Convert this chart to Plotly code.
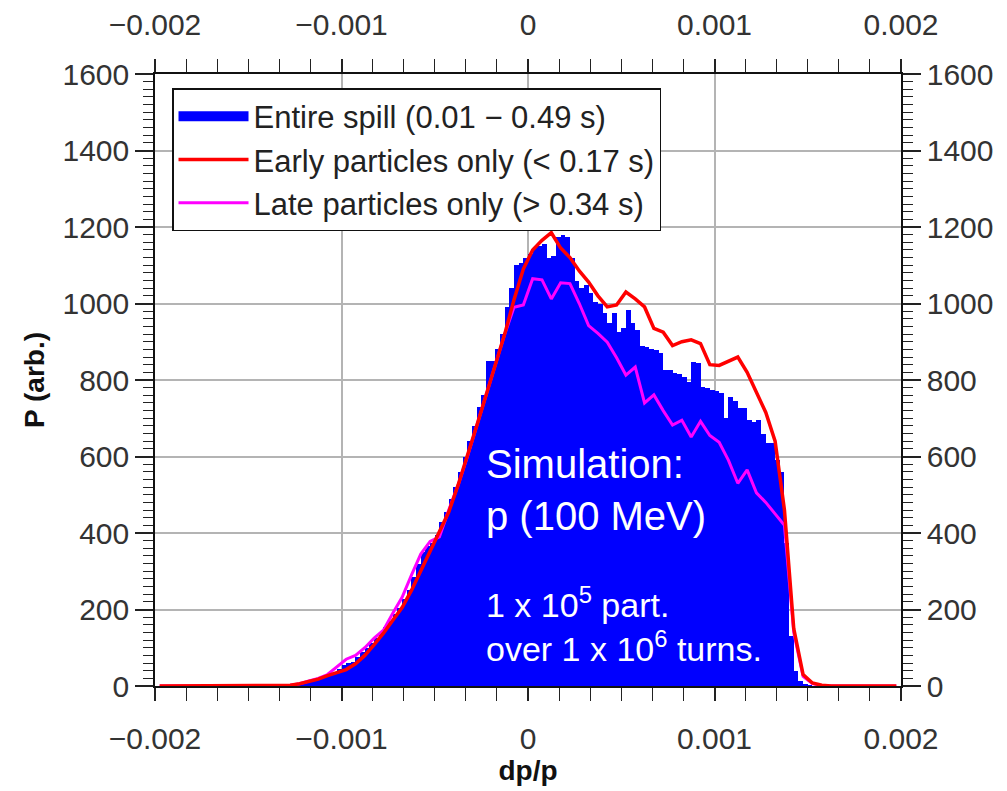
import numpy as np
import plotly.graph_objects as go

# ---- data ----
# histogram: 160 bins of width 2.5e-5 spanning -0.002 .. 0.002
hist_bin_width = 0.000025
hist_left = [0] * 28
hist_mid = [2, 3, 5, 7, 10, 13, 17, 21, 26, 30, 35, 45, 55, 60, 62, 75, 88, 100,
            112, 126, 140, 155, 170, 188, 205, 228, 250, 285, 320, 350, 365, 375,
            395, 430, 455, 490, 520, 560, 600, 640, 680, 730, 760, 850, 850, 880,
            920, 990, 1040, 1100, 1105, 1120, 1130, 1145, 1150, 1155, 1120, 1125,
            1175, 1180, 1175, 1120, 1060, 1040, 1048, 1027, 1005, 1000, 975, 950,
            975, 925, 935, 983, 950, 930, 890, 886, 880, 878, 870, 826, 826, 818,
            815, 808, 795, 847, 845, 782, 778, 774, 770, 766, 700, 756, 745, 727,
            727, 695, 690, 695, 660, 635, 635, 590, 560, 375, 130, 40, 12, 4, 2]
hist_right = [0] * 19
entire_spill = hist_left + hist_mid + hist_right

# line histograms: 80 bins of width 5e-5
line_bin_width = 0.00005
early = [0] * 14 + [2, 6, 12, 18, 27, 34, 43, 58, 80, 108, 138, 172, 205, 250, 300,
                    350, 400, 455, 525, 600, 680, 760, 840, 920, 1010, 1090, 1140,
                    1165, 1185, 1145, 1120, 1085, 1056, 1020, 991, 996, 1030, 1012,
                    991, 935, 925, 890, 900, 905, 895, 840, 838, 848, 860, 820, 770,
                    715, 640, 460, 150, 30, 8, 2] + [0] * 8
late = [0] * 14 + [2, 6, 13, 20, 30, 50, 70, 80, 100, 125, 146, 190, 232, 290, 345,
                   378, 390, 460, 525, 600, 680, 760, 840, 920, 990, 996, 1065, 1062,
                   1012, 1054, 1052, 1000, 942, 922, 899, 858, 813, 834, 740, 761,
                   720, 682, 695, 651, 692, 655, 637, 590, 530, 565, 505, 480, 450,
                   420, 140, 25, 6, 1] + [0] * 8

x_tick_vals = [-0.002, -0.001, 0, 0.001, 0.002]
x_tick_text = ["\u22120.002", "\u22120.001", "0", "0.001", "0.002"]
y_tick_vals = [0, 200, 400, 600, 800, 1000, 1200, 1400, 1600]

hist_x = -0.002 + (np.arange(len(entire_spill)) + 0.5) * hist_bin_width
line_x = -0.002 + (np.arange(len(early)) + 0.5) * line_bin_width

FONT = "Liberation Sans, Arial, sans-serif"
TICK_COLOR = "#333333"
TICK_SIZE = 30
BLUE = "#0000ff"

fig = go.Figure()
fig.add_trace(go.Bar(x=hist_x, y=entire_spill, width=hist_bin_width,
                     marker=dict(color=BLUE, line=dict(width=0)),
                     name="Entire spill (0.01 \u2212 0.49 s)", legendgroup="spill",
                     showlegend=False))
# legend swatch for the histogram (wide filled block, as in the reference)
fig.add_trace(go.Scatter(x=[None], y=[None], mode="lines",
                         line=dict(color=BLUE, width=18),
                         name="Entire spill (0.01 \u2212 0.49 s)", legendgroup="spill",
                         legendrank=1, hoverinfo="skip"))
fig.add_trace(go.Scatter(x=line_x, y=late, mode="lines",
                         line=dict(color="#ff00ff", width=3),
                         name="Late particles only (> 0.34 s)", legendrank=3))
fig.add_trace(go.Scatter(x=line_x, y=early, mode="lines",
                         line=dict(color="#ff0000", width=3.5),
                         name="Early particles only (< 0.17 s)", legendrank=2))
# invisible trace to activate the mirrored (top / right) labelled axes
fig.add_trace(go.Scatter(x=[0], y=[0], xaxis="x2", yaxis="y2", mode="markers",
                         marker=dict(opacity=0), showlegend=False, hoverinfo="skip"))

xaxis_common = dict(range=[-0.002, 0.002], tickmode="array", tickvals=x_tick_vals,
                    ticktext=x_tick_text, ticks="outside", ticklen=13, tickwidth=1.5,
                    tickcolor="#222", showline=True, linecolor="#111", linewidth=1.5,
                    tickfont=dict(family=FONT, size=TICK_SIZE, color=TICK_COLOR),
                    ticklabelstandoff=12, automargin=False,
                    minor=dict(tick0=-0.002, dtick=0.001 / 6, ticks="outside",
                               ticklen=13, tickwidth=1.2, tickcolor="#222",
                               showgrid=False),
                    zeroline=False)
yaxis_common = dict(range=[0, 1600], tickmode="array", tickvals=y_tick_vals,
                    ticks="outside", ticklen=18, tickwidth=1.5, tickcolor="#222",
                    showline=True, linecolor="#111", linewidth=1.5,
                    tickfont=dict(family=FONT, size=TICK_SIZE, color=TICK_COLOR),
                    automargin=False,
                    minor=dict(tick0=0, dtick=20, ticks="outside", ticklen=10,
                               tickwidth=1.2, tickcolor="#222", showgrid=False),
                    zeroline=False)

fig.update_layout(
    width=1007, height=791,
    margin=dict(l=155, r=106, t=74, b=105),
    paper_bgcolor="white", plot_bgcolor="white",
    bargap=0,
    showlegend=True,
    xaxis=dict(**xaxis_common, showgrid=True, gridcolor="#b4b4b4", gridwidth=1.5,
               title=dict(text="<b>dp/p</b>", font=dict(family=FONT, size=28, color="#111"),
                          standoff=6)),
    xaxis2=dict(**xaxis_common, overlaying="x", side="top", matches="x", showgrid=False),
    yaxis=dict(**yaxis_common, showgrid=True, gridcolor="#b4b4b4", gridwidth=1.5,
               title=dict(text="<b>P (arb.)</b>", font=dict(family=FONT, size=28, color="#111"),
                          standoff=10)),
    yaxis2=dict(**yaxis_common, overlaying="y", side="right", matches="y", showgrid=False),
    legend=dict(x=0.0228, y=0.977, xanchor="left", yanchor="top",
                bgcolor="white", bordercolor="#111", borderwidth=1.5,
                font=dict(family=FONT, size=31, color="#222"),
                itemwidth=70, tracegroupgap=0),
    annotations=[
        dict(x=-0.000236, y=513, xref="x", yref="y", xanchor="left", yanchor="middle",
             align="left", text="Simulation:<br>p (100 MeV)", showarrow=False,
             font=dict(family=FONT, size=40, color="white")),
        dict(x=-0.000236, y=162, xref="x", yref="y", xanchor="left", yanchor="middle",
             align="left",
             text="1 x 10<sup>5</sup> part.<br>over 1 x 10<sup>6</sup> turns.",
             showarrow=False,
             font=dict(family=FONT, size=34, color="white")),
    ],
)

fig.write_html("out.html")
